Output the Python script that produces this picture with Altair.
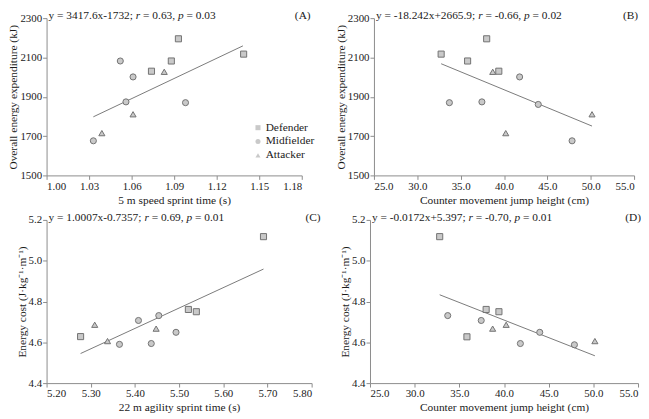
import altair as alt
import pandas as pd

FONT = "Liberation Serif"
positions = ["Defender", "Midfielder", "Attacker"]
shapes = ["square", "circle", "triangle-up"]

# ---- Panel A: 5 m sprint time vs overall energy expenditure
a_def_x = [1.093, 1.088, 1.074, 1.139]
a_def_y = [2195, 2082, 2030, 2117]
a_mid_x = [1.052, 1.061, 1.056, 1.098, 1.033]
a_mid_y = [2082, 2001, 1874, 1870, 1676]
a_att_x = [1.083, 1.061, 1.039]
a_att_y = [2027, 1811, 1715]
a_fit_x = [1.033, 1.1385]
a_fit_y = [1798, 2159]

# ---- Panel B: CMJ height vs overall energy expenditure
b_def_x = [32.75, 35.8, 38.0, 39.4]
b_def_y = [2117, 2082, 2195, 2030]
b_mid_x = [33.7, 37.45, 41.8, 43.95, 47.85]
b_mid_y = [1870, 1874, 2001, 1861, 1676]
b_att_x = [38.7, 40.2, 50.15]
b_att_y = [2027, 1715, 1811]
b_fit_x = [32.75, 50.15]
b_fit_y = [2068, 1751]

# ---- Panel C: 22 m agility sprint time vs energy cost
c_def_x = [5.277, 5.521, 5.539, 5.691]
c_def_y = [4.628, 4.761, 4.750, 5.118]
c_mid_x = [5.365, 5.408, 5.437, 5.454, 5.493]
c_mid_y = [4.590, 4.707, 4.594, 4.731, 4.649]
c_att_x = [5.309, 5.338, 5.448]
c_att_y = [4.686, 4.606, 4.667]
c_fit_x = [5.277, 5.691]
c_fit_y = [4.545, 4.959]

# ---- Panel D: CMJ height vs energy cost
d_def_x = [32.8, 35.85, 38.0, 39.43]
d_def_y = [5.118, 4.627, 4.761, 4.750]
d_mid_x = [33.7, 37.45, 41.83, 44.0, 47.88]
d_mid_y = [4.731, 4.707, 4.594, 4.649, 4.588]
d_att_x = [38.73, 40.24, 50.17]
d_att_y = [4.667, 4.686, 4.606]
d_fit_x = [32.8, 50.17]
d_fit_y = [4.833, 4.534]

eq_a = [("y = 3417.6x-1732; ", False), ("r", True), (" = 0.63, ", False), ("p", True), (" = 0.03", False)]
eq_b = [("y = -18.242x+2665.9; ", False), ("r", True), (" = -0.66, ", False), ("p", True), (" = 0.02", False)]
eq_c = [("y = 1.0007x-0.7357; ", False), ("r", True), (" = 0.69, ", False), ("p", True), (" = 0.01", False)]
eq_d = [("y = -0.0172x+5.397; ", False), ("r", True), (" = -0.70, ", False), ("p", True), (" = 0.01", False)]

# Times / Liberation Serif advance widths (per 1000 em)
W = {" ": 250, "=": 564, ".": 250, ",": 250, ";": 278, "-": 333, "+": 564, "x": 500, "y": 500}
WI = {"r": 389, "p": 500}


def seg_width(s, italic, fs):
    tot = 0
    for ch in s:
        if italic and ch in WI:
            tot += WI[ch]
        elif ch.isdigit():
            tot += 500
        else:
            tot += W.get(ch, 500)
    return tot * fs / 1000.0


def table(dx, dy, mx, my, ax, ay):
    rows = []
    for pos, xs, ys in zip(positions, [dx, mx, ax], [dy, my, ay]):
        for x, y in zip(xs, ys):
            rows.append({"pos": pos, "x": x, "y": y})
    return pd.DataFrame(rows)


AX = "#8c8c8c"
TXT = "#1a1a1a"
FILL = "#c9c9c9"
STROKE = "#727272"
EQ_FS = 11.5


def panel(df, fx, fy, xdom, xticks, xfmt, xtitle, ydom, yticks, yfmt, ytitle,
          eq, label, w, h, label_dx, legend):
    base = alt.Chart(df)
    x_enc = alt.X("x:Q", scale=alt.Scale(domain=xdom, nice=False, zero=False),
                  axis=alt.Axis(values=xticks, format=xfmt, title=xtitle))
    y_enc = alt.Y("y:Q", scale=alt.Scale(domain=ydom, nice=False, zero=False),
                  axis=alt.Axis(values=yticks, format=yfmt, title=ytitle))
    fit = alt.Chart(pd.DataFrame({"x": fx, "y": fy})).mark_line(
        color="#7a7a7a", strokeWidth=1).encode(x=x_enc, y=y_enc)
    pts = base.mark_point(filled=True, fill=FILL, stroke=STROKE, strokeWidth=1,
                          opacity=1, strokeOpacity=1, fillOpacity=1, size=38).encode(
        x=x_enc, y=y_enc,
        shape=alt.Shape("pos:N", scale=alt.Scale(domain=positions, range=shapes),
                        legend=legend),
    )
    layers = [fit, pts]
    cur = 2.0
    for s, it in eq:
        lead = len(s) - len(s.lstrip(" "))
        txt = s.strip(" ")
        xpos = cur + seg_width(" " * lead, False, EQ_FS)
        layers.append(
            alt.Chart(pd.DataFrame({"t": [txt]})).mark_text(
                align="left", baseline="alphabetic", font=FONT, fontSize=EQ_FS,
                fontStyle="italic" if it else "normal", color=TXT,
            ).encode(text="t:N", x=alt.value(xpos), y=alt.value(1))
        )
        cur += seg_width(s, it, EQ_FS)
    layers.append(
        alt.Chart(pd.DataFrame({"t": [label]})).mark_text(
            align="right", baseline="alphabetic", font=FONT, fontSize=EQ_FS, color=TXT,
        ).encode(text="t:N", x=alt.value(w + label_dx), y=alt.value(1))
    )
    return alt.layer(*layers).properties(width=w, height=h)


legend_a = alt.Legend(title=None, orient="none", legendX=208, legendY=105,
                      symbolSize=26, symbolFillColor=FILL, symbolStrokeColor=STROKE,
                      symbolStrokeWidth=1, labelFont=FONT, labelFontSize=11.5,
                      labelColor=TXT, labelOffset=2, rowPadding=1, padding=0)

xt_sprint5 = [1.00, 1.03, 1.06, 1.09, 1.12, 1.15, 1.18]
xt_cmj = [25, 30, 35, 40, 45, 50, 55]
xt_agility = [5.2, 5.3, 5.4, 5.5, 5.6, 5.7, 5.8]
yt_ee = [1500, 1700, 1900, 2100, 2300]
yt_ec = [4.4, 4.6, 4.8, 5.0, 5.2]
title_ee = "Overall energy expenditure (kJ)"
title_ec = "Energy cost (J·kg⁻¹·m⁻¹)"

A = panel(table(a_def_x, a_def_y, a_mid_x, a_mid_y, a_att_x, a_att_y), a_fit_x, a_fit_y,
          [1.0, 1.18], xt_sprint5, ".2f", "5 m speed sprint time (s)",
          [1500, 2300], yt_ee, "d", title_ee, eq_a, "(A)", 258, 159, 9, legend_a)
B = panel(table(b_def_x, b_def_y, b_mid_x, b_mid_y, b_att_x, b_att_y), b_fit_x, b_fit_y,
          [25, 55], xt_cmj, ".1f", "Counter movement jump height (cm)",
          [1500, 2300], yt_ee, "d", title_ee, eq_b, "(B)", 263, 159, 4, None)
C = panel(table(c_def_x, c_def_y, c_mid_x, c_mid_y, c_att_x, c_att_y), c_fit_x, c_fit_y,
          [5.2, 5.8], xt_agility, ".2f", "22 m agility sprint time (s)",
          [4.4, 5.2], yt_ec, ".1f", title_ec, eq_c, "(C)", 268, 165, 9, None)
D = panel(table(d_def_x, d_def_y, d_mid_x, d_mid_y, d_att_x, d_att_y), d_fit_x, d_fit_y,
          [25, 55], xt_cmj, ".1f", "Counter movement jump height (cm)",
          [4.4, 5.2], yt_ec, ".1f", title_ec, eq_d, "(D)", 271, 165, 3, None)

row1 = alt.hconcat(A, B, spacing=21).resolve_scale(shape="independent").resolve_legend(shape="independent")
row2 = alt.hconcat(C, D, spacing=19).resolve_scale(shape="independent").resolve_legend(shape="independent")

chart = alt.vconcat(row1, row2, spacing=6).resolve_scale(
    shape="independent").resolve_legend(shape="independent").properties(
    padding={"left": 0, "top": 0, "right": 0, "bottom": 0}
).configure_view(stroke=None).configure_axis(
    grid=False, domainColor=AX, tickColor=AX, tickSize=4, domainWidth=1, tickWidth=1,
    labelFont=FONT, labelFontSize=11, labelColor=TXT, labelPadding=1,
    titleFont=FONT, titleFontSize=11.5, titleFontWeight="normal", titleColor=TXT,
    titlePadding=3,
).configure_axisY(titlePadding=1)

chart.save("out.html", embed_options={"renderer": "svg", "actions": False})
